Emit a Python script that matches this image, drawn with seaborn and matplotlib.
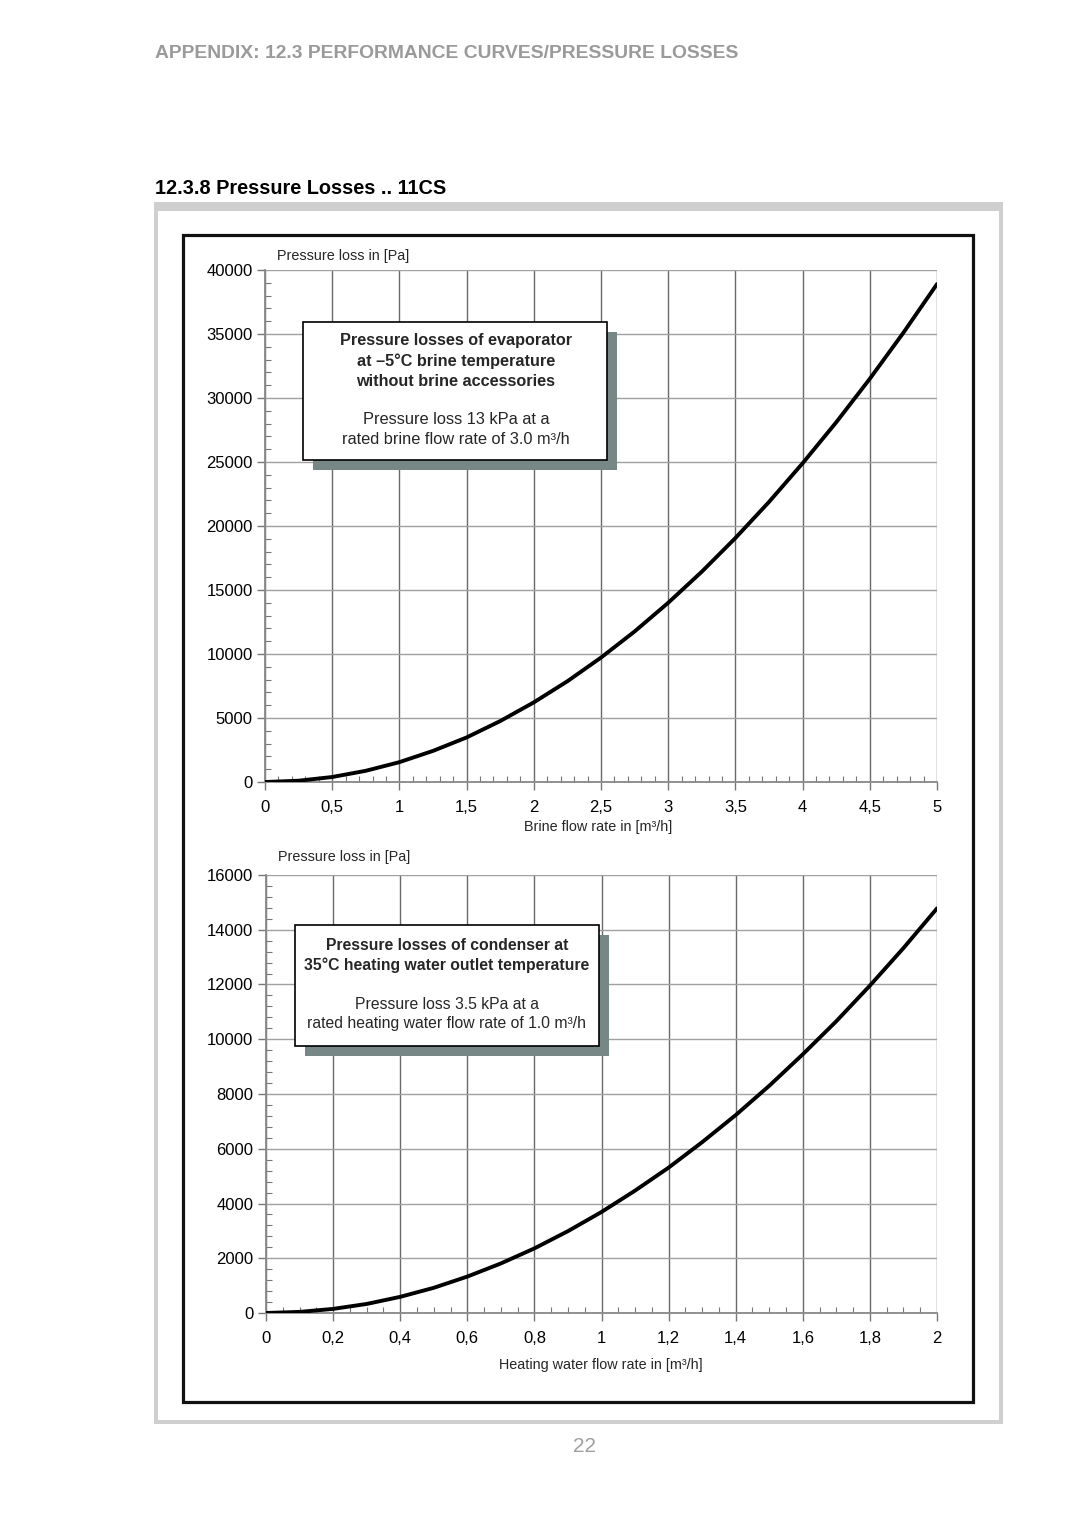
import matplotlib
matplotlib.use("Agg")
import matplotlib.pyplot as plt
import seaborn as sns
import pandas as pd
from matplotlib.patches import Rectangle
from matplotlib.ticker import MultipleLocator

# ---------------- data ----------------
brine_flow = [0, 0.25, 0.5, 0.75, 1.0, 1.25, 1.5, 1.75, 2.0, 2.25, 2.5, 2.75,
              3.0, 3.25, 3.5, 3.75, 4.0, 4.25, 4.5, 4.75, 5.0]
brine_loss = [0, 100, 390, 875, 1550, 2430, 3480, 4760, 6220, 7870, 9720, 11760,
              14000, 16430, 19060, 21880, 24900, 28100, 31500, 35100, 38900]

water_flow = [0, 0.1, 0.2, 0.3, 0.4, 0.5, 0.6, 0.7, 0.8, 0.9, 1.0, 1.1, 1.2,
              1.3, 1.4, 1.5, 1.6, 1.7, 1.8, 1.9, 2.0]
water_loss = [0, 40, 150, 330, 590, 920, 1330, 1810, 2360, 2990, 3690, 4470, 5310,
              6240, 7230, 8300, 9450, 10660, 11960, 13330, 14780]

top_xticks = [0, 0.5, 1, 1.5, 2, 2.5, 3, 3.5, 4, 4.5, 5]
top_xlabels = ["0", "0,5", "1", "1,5", "2", "2,5", "3", "3,5", "4", "4,5", "5"]
top_yticks = [0, 5000, 10000, 15000, 20000, 25000, 30000, 35000, 40000]

bot_xticks = [0, 0.2, 0.4, 0.6, 0.8, 1.0, 1.2, 1.4, 1.6, 1.8, 2.0]
bot_xlabels = ["0", "0,2", "0,4", "0,6", "0,8", "1", "1,2", "1,4", "1,6", "1,8", "2"]
bot_yticks = [0, 2000, 4000, 6000, 8000, 10000, 12000, 14000, 16000]

header = "APPENDIX: 12.3 PERFORMANCE CURVES/PRESSURE LOSSES"
title = "12.3.8 Pressure Losses .. 11CS"
ylabel = "Pressure loss in [Pa]"
top_xlabel = "Brine flow rate in [m³/h]"
bot_xlabel = "Heating water flow rate in [m³/h]"
top_box_bold = ["Pressure losses of evaporator", "at \u20135°C brine temperature",
                "without brine accessories"]
top_box_norm = ["Pressure loss 13 kPa at a", "rated brine flow rate of 3.0 m³/h"]
bot_box_bold = ["Pressure losses of condenser at", "35°C heating water outlet temperature"]
bot_box_norm = ["Pressure loss 3.5 kPa at a", "rated heating water flow rate of 1.0 m³/h"]
page_no = "22"

# ---------------- style ----------------
sns.set_theme(style="white")
plt.rcParams['font.family'] = ['Liberation Sans', 'DejaVu Sans']

W, H = 1080, 1528
fig = plt.figure(figsize=(W / 100, H / 100), dpi=100)
fig.patch.set_facecolor("white")


def fx(x):
    return x / W


def fy(y):
    return 1 - y / H


def frect(x0, y0, x1, y1, **kw):
    fig.patches.append(Rectangle((fx(x0), fy(y1)), fx(x1) - fx(x0), fy(y0) - fy(y1),
                                 transform=fig.transFigure, **kw))


# page frames
frect(154, 202, 1003, 1424, facecolor="#cfcfcf", edgecolor="none", zorder=-3)
frect(158, 211, 999, 1420, facecolor="white", edgecolor="none", zorder=-2)
frect(182.5, 234.5, 973, 1402, facecolor="none", edgecolor="#111111", linewidth=2.3, zorder=-1)

fig.text(fx(155), fy(54), header, fontsize=13.9, fontweight="bold", color="#9a9a9a",
         ha="left", va="center")
fig.text(fx(155), fy(188), title, fontsize=14.3, fontweight="bold", color="black",
         ha="left", va="center")
fig.text(fx(585), fy(1447), page_no, fontsize=15, color="#a0a0a0", ha="center", va="center")


def style_axes(ax, xt, xl, yt, xminor, yminor):
    ax.set_xticks(xt)
    ax.set_xticklabels(xl)
    ax.set_yticks(yt)
    ax.set_yticklabels([str(v) for v in yt])
    ax.set_xlim(xt[0], xt[-1])
    ax.set_ylim(yt[0], yt[-1])
    ax.xaxis.set_minor_locator(MultipleLocator(xminor))
    ax.yaxis.set_minor_locator(MultipleLocator(yminor))
    ax.tick_params(axis="both", which="major", direction="out", length=6, width=1,
                   color="#777777", labelsize=12, labelcolor="black", pad=3)
    ax.tick_params(axis="x", which="major", pad=7)
    ax.tick_params(axis="both", which="minor", direction="in", length=4, width=0.8,
                   color="#777777")
    ax.tick_params(axis="x", which="both", bottom=True)
    ax.tick_params(axis="y", which="both", left=True)
    for s in ["left", "bottom"]:
        ax.spines[s].set_color("#888888")
        ax.spines[s].set_linewidth(1.3)
    for s in ["top", "right"]:
        ax.spines[s].set_visible(False)
    ax.xaxis.grid(True, color="#6a6a6a", linewidth=1.0)
    ax.yaxis.grid(True, color="#a0a0a0", linewidth=1.0)
    ax.set_axisbelow(True)
    ax.set_xlabel("")
    ax.set_ylabel("")
    ax.set_facecolor("none")


def add_box(ax, x0, y0, x1, y1, dx, dy):
    ax.add_patch(Rectangle((x0 + dx, y0 - dy), x1 - x0, y1 - y0, transform=ax.transAxes,
                           facecolor="#778786", edgecolor="none", zorder=3))
    ax.add_patch(Rectangle((x0, y0), x1 - x0, y1 - y0, transform=ax.transAxes,
                           facecolor="white", edgecolor="black", linewidth=1.2, zorder=4))


# ---------------- top chart ----------------
ax1 = fig.add_axes([fx(265), fy(782), fx(937) - fx(265), fy(270) - fy(782)])
df1 = pd.DataFrame({"flow": brine_flow, "loss": brine_loss})
sns.lineplot(data=df1, x="flow", y="loss", ax=ax1, color="black", linewidth=2.8, zorder=5)
style_axes(ax1, top_xticks, top_xlabels, top_yticks, 0.1, 1000)
add_box(ax1, (303 - 265) / 672, (782 - 460) / 512, (607 - 265) / 672, (782 - 322) / 512,
        10 / 672, 10 / 512)

fig.text(fx(277), fy(256), ylabel, fontsize=10.4, ha="left", va="center")
fig.text(fx(598), fy(827), top_xlabel, fontsize=10.4, ha="center", va="center")
for i, t in enumerate(top_box_bold):
    fig.text(fx(456), fy(341 + 20 * i), t, fontsize=11.7, fontweight="bold",
             ha="center", va="center", zorder=10)
for i, t in enumerate(top_box_norm):
    fig.text(fx(456), fy(420 + 19.5 * i), t, fontsize=11.8, ha="center", va="center",
             zorder=10)

# ---------------- bottom chart ----------------
ax2 = fig.add_axes([fx(266), fy(1313), fx(937) - fx(266), fy(875) - fy(1313)])
df2 = pd.DataFrame({"flow": water_flow, "loss": water_loss})
sns.lineplot(data=df2, x="flow", y="loss", ax=ax2, color="black", linewidth=2.8, zorder=5)
style_axes(ax2, bot_xticks, bot_xlabels, bot_yticks, 0.05, 400)
add_box(ax2, (295 - 266) / 671, (1313 - 1046) / 438, (599 - 266) / 671, (1313 - 925) / 438,
        10 / 671, 10 / 438)

fig.text(fx(278), fy(857), ylabel, fontsize=10.4, ha="left", va="center")
fig.text(fx(601), fy(1365), bot_xlabel, fontsize=10.4, ha="center", va="center")
for i, t in enumerate(bot_box_bold):
    fig.text(fx(447), fy(945 + 20 * i), t, fontsize=11.3, fontweight="bold",
             ha="center", va="center", zorder=10)
for i, t in enumerate(bot_box_norm):
    fig.text(fx(447), fy(1004 + 19.5 * i), t, fontsize=11.3, ha="center", va="center",
             zorder=10)

fig.savefig("out.png", dpi=100)
